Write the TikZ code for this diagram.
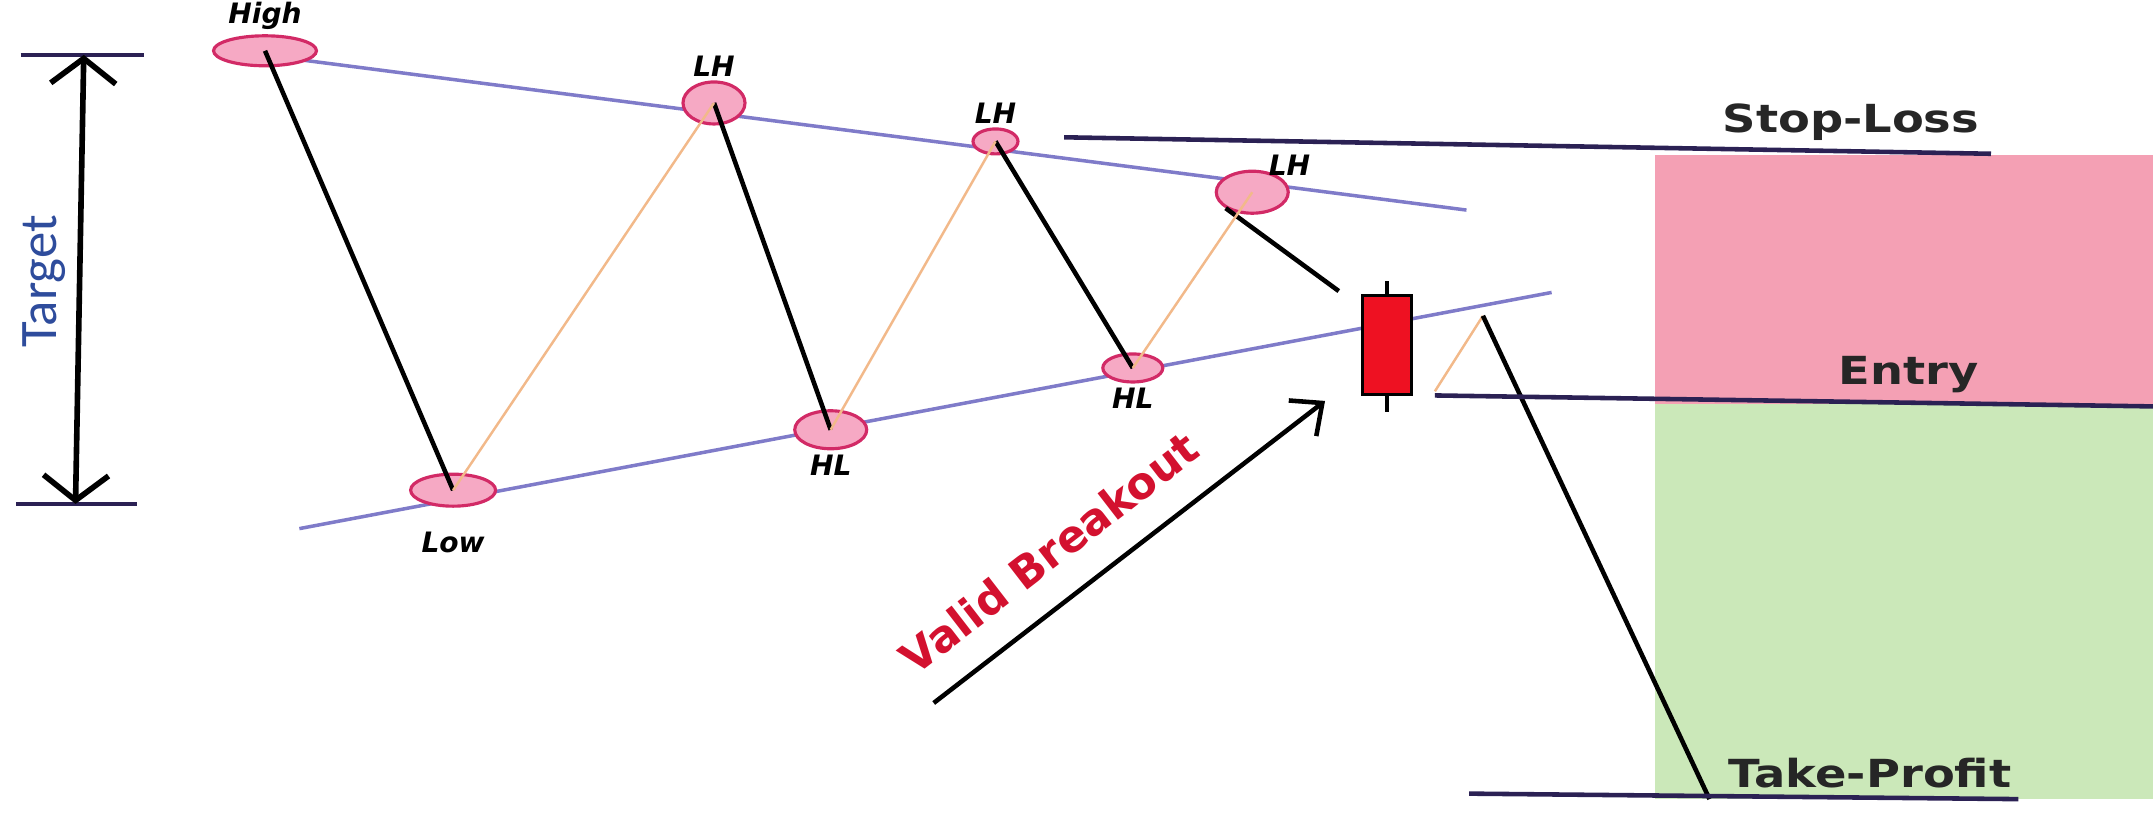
\documentclass[tikz,border=0pt]{standalone}
\usepackage{fontspec}
\setmainfont{DejaVu Sans}
\newfontfamily\targetfont{Carlito}
\newfontfamily\levelfont[FakeStretch=1.2]{DejaVu Sans}
\usetikzlibrary{shapes.geometric}
\usetikzlibrary{arrows.meta}
\usetikzlibrary{positioning}

\definecolor{trend}{HTML}{7F7BC9}
\definecolor{swingfill}{HTML}{F6A9C4}
\definecolor{swingdraw}{HTML}{D22A66}
\definecolor{navy}{HTML}{2B2154}
\definecolor{legup}{HTML}{F2B98A}
\definecolor{candlered}{HTML}{EE1122}
\definecolor{losszone}{HTML}{F4A0B4}
\definecolor{profitzone}{HTML}{CBE8B9}
\definecolor{breakred}{HTML}{D3112F}
\definecolor{targetblue}{HTML}{2E4C9C}

\begin{document}
\begin{tikzpicture}[x=0.01373cm, y=-0.01373cm,
        swing/.style={ellipse, draw=swingdraw, fill=swingfill, line width=0.9pt, inner sep=0pt},
        tag/.style={font=\fontsize{8}{8}\selectfont\bfseries\itshape, inner sep=1pt},
        levelname/.style={font=\levelfont\fontsize{11}{13}\selectfont\bfseries, text=black!85},
        trendline/.style={trend, line width=1pt},
        downleg/.style={black, line width=1.3pt},
        upleg/.style={legup, line width=0.7pt},
        levelline/.style={navy, line width=1.3pt}]
        \useasboundingbox (0,0) rectangle (1568,598);

        % zones
        \fill[losszone] (1205,113) rectangle (1568,294);
        \fill[profitzone] (1205,294) rectangle (1568,582);

        % target
        \coordinate (tgtop) at (61,40);
        \coordinate (tgbot) at (55,367);
        \coordinate (tgl1) at (15,40);
        \coordinate (tgr1) at (105,40);
        \coordinate (tgl2) at (12,367);
        \coordinate (tgr2) at (100,367);
        \draw[levelline] (tgl1) -- (tgr1);
        \draw[levelline] (tgl2) -- (tgr2);
        \draw[line width=1.6pt, {Straight Barb[length=2.5mm,width=6.5mm]}-{Straight Barb[length=2.5mm,width=6.5mm]}] (tgtop) -- (tgbot);
        \node[rotate=90, text=targetblue, font=\targetfont\fontsize{15}{15}\selectfont] (tgtext) at (32,205) {Target};

        % trend lines
        \coordinate (ut1) at (160,36);
        \coordinate (ut2) at (1068,153);
        \coordinate (lt1) at (218,385);
        \coordinate (lt2) at (1130,213);
        \draw[trendline] (ut1) -- (ut2);
        \draw[trendline] (lt1) -- (lt2);

        % swing points
        \node[swing, minimum width=1.03cm, minimum height=0.30cm, label={[tag]above:High}] (high) at (193,37) {};

        \node[swing, minimum width=0.85cm, minimum height=0.32cm, label={[tag, label distance=0.2cm]below:Low}] (low) at (330,357) {};

        \node[swing, minimum width=0.62cm, minimum height=0.42cm, label={[tag]above:LH}] (lh1) at (520,75) {};

        \node[swing, minimum width=0.72cm, minimum height=0.38cm, label={[tag]below:HL}] (hl1) at (605,313) {};

        \node[swing, minimum width=0.45cm, minimum height=0.25cm, label={[tag]above:LH}] (lh2) at (725,103) {};

        \node[swing, minimum width=0.60cm, minimum height=0.28cm, label={[tag]below:HL}] (hl2) at (825,268) {};

        \node[swing, minimum width=0.72cm, minimum height=0.42cm, label={[tag, label distance=-0.1cm]above right:LH}] (lh3) at (912,140) {};

        % candle
        \coordinate (wicktop) at (1010,205);
        \coordinate (wickbot) at (1010,300);
        \draw[line width=1.3pt] (wicktop) -- (wickbot);
        \node[draw=black, fill=candlered, line width=0.8pt, minimum width=0.49cm, minimum height=0.99cm, inner sep=0pt] (candle) at (1010,251) {};

        % legs
        \coordinate (brk) at (975,212);
        \coordinate (pb1) at (1045,285);
        \coordinate (pb2) at (1080,230);
        \coordinate (tp) at (1245,582);
        \draw[downleg] (high.center) -- (low.center);
        \draw[downleg] (lh1.center) -- (hl1.center);
        \draw[downleg] (lh2.center) -- (hl2.center);
        \draw[downleg] (lh3.south west) -- (brk);
        \draw[upleg] (low.center) -- (lh1.center);
        \draw[upleg] (hl1.center) -- (lh2.center);
        \draw[upleg] (hl2.center) -- (lh3.center);
        \draw[upleg] (pb1) -- (pb2);
        \draw[downleg] (pb2) -- (tp);

        % breakout arrow
        \coordinate (vb1) at (680,512);
        \coordinate (vb2) at (965,292);
        \draw[line width=1.3pt, -{Straight Barb[length=2.5mm,width=4.5mm]}] (vb1) -- (vb2) node[pos=0.37, sloped, above=5pt, text=breakred, font=\fontsize{12.5}{14}\selectfont\bfseries] (vbtext) {Valid Breakout};

        % levels
        \coordinate (sl1) at (775,100);
        \coordinate (sl2) at (1450,112);
        \coordinate (en1) at (1045,288);
        \coordinate (en2) at (1568,296);
        \coordinate (tp1) at (1070,578);
        \coordinate (tp2) at (1470,582);
        \draw[levelline] (sl1) -- (sl2);
        \draw[levelline] (en1) -- (en2);
        \draw[levelline] (tp1) -- (tp2);
        \node[levelname] (slname) at (1348,89) {Stop-Loss};
        \node[levelname] (enname) at (1390,273) {Entry};
        \node[levelname] (tpname) at (1362,563) {Take-Profit};
      \end{tikzpicture}
\end{document}
